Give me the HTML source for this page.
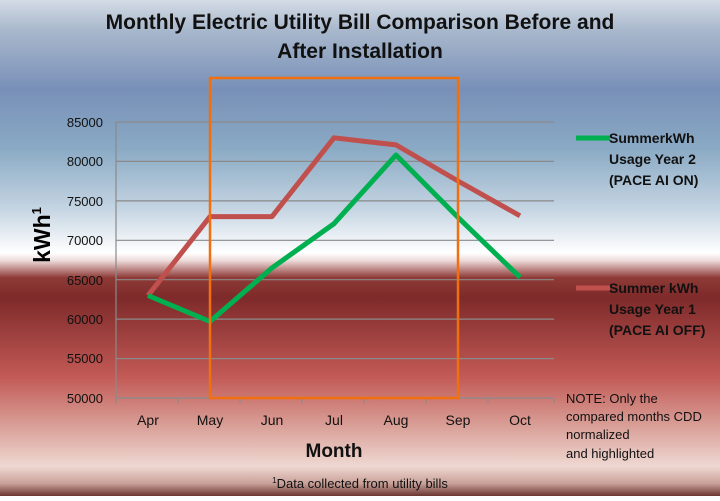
<!DOCTYPE html>
<html><head><meta charset="utf-8"><style>
html,body{margin:0;padding:0;}
body{width:720px;height:496px;overflow:hidden;font-family:"Liberation Sans",sans-serif;}
</style></head><body>
<svg width="720" height="496" xmlns="http://www.w3.org/2000/svg" font-family="Liberation Sans, sans-serif">
<defs>
<linearGradient id="bg" x1="0" y1="0" x2="0" y2="1">
<stop offset="0" stop-color="#d4dce6"/>
<stop offset="0.06" stop-color="#a9b8cc"/>
<stop offset="0.18" stop-color="#7890b8"/>
<stop offset="0.30" stop-color="#8aaac4"/>
<stop offset="0.42" stop-color="#c4d4e2"/>
<stop offset="0.51" stop-color="#ffffff"/>
<stop offset="0.525" stop-color="#eedcdc"/>
<stop offset="0.56" stop-color="#8e3a36"/>
<stop offset="0.60" stop-color="#7e2a2a"/>
<stop offset="0.76" stop-color="#c25a56"/>
<stop offset="0.86" stop-color="#d9a098"/>
<stop offset="0.94" stop-color="#efd8d2"/>
<stop offset="0.975" stop-color="#c8a098"/>
<stop offset="1" stop-color="#6a3430"/>
</linearGradient>
</defs>
<rect width="720" height="496" fill="url(#bg)"/>
<g stroke="#8a8a8a" stroke-width="1.2">
<line x1="116" y1="122" x2="554" y2="122"/>
<line x1="116" y1="161.4" x2="554" y2="161.4"/>
<line x1="116" y1="200.9" x2="554" y2="200.9"/>
<line x1="116" y1="240.3" x2="554" y2="240.3"/>
<line x1="116" y1="279.7" x2="554" y2="279.7"/>
<line x1="116" y1="319.1" x2="554" y2="319.1"/>
<line x1="116" y1="358.6" x2="554" y2="358.6"/>
<line x1="116" y1="398" x2="554" y2="398"/>
<line x1="116" y1="122" x2="116" y2="403"/>
<line x1="178" y1="398" x2="178" y2="403"/>
<line x1="240" y1="398" x2="240" y2="403"/>
<line x1="302" y1="398" x2="302" y2="403"/>
<line x1="364" y1="398" x2="364" y2="403"/>
<line x1="426" y1="398" x2="426" y2="403"/>
<line x1="488" y1="398" x2="488" y2="403"/>
<line x1="554" y1="398" x2="554" y2="403"/>
</g>
<g font-size="13" fill="#111" text-anchor="end">
<text x="103" y="127">85000</text><text x="103" y="166">80000</text><text x="103" y="206">75000</text>
<text x="103" y="245">70000</text><text x="103" y="285">65000</text><text x="103" y="324">60000</text>
<text x="103" y="363">55000</text><text x="103" y="403">50000</text>
</g>
<g font-size="14" fill="#111" text-anchor="middle">
<text x="148" y="425">Apr</text><text x="210" y="425">May</text><text x="272" y="425">Jun</text>
<text x="334" y="425">Jul</text><text x="396" y="425">Aug</text><text x="458" y="425">Sep</text><text x="520" y="425">Oct</text>
</g>
<polyline points="148,295.5 210,216.6 272,216.6 334,137.8 396,144.9 458,181 520,215.8" fill="none" stroke="#c0504d" stroke-width="5" stroke-linejoin="round"/>
<polyline points="148,295.5 210,321.5 272,267.9 334,223.7 396,155 458,217.4 520,277.3" fill="none" stroke="#00b050" stroke-width="5" stroke-linejoin="round"/>
<rect x="210" y="78" width="248" height="320" fill="none" stroke="#f07010" stroke-width="2.5"/>
<text x="360" y="29" font-size="21" font-weight="bold" text-anchor="middle" fill="#111">Monthly Electric Utility Bill Comparison Before and</text>
<text x="360" y="58" font-size="21" font-weight="bold" text-anchor="middle" fill="#111">After Installation</text>
<text transform="translate(50,235) rotate(-90)" font-size="23" font-weight="bold" text-anchor="middle" fill="#000">kWh<tspan font-size="13" dy="-9">1</tspan></text>
<text x="334" y="457" font-size="19" font-weight="bold" text-anchor="middle" fill="#111">Month</text>
<text x="360" y="488" font-size="13" text-anchor="middle" fill="#111"><tspan font-size="8" dy="-5">1</tspan><tspan dy="5">Data collected from utility bills</tspan></text>
<line x1="576" y1="138" x2="610" y2="138" stroke="#00b050" stroke-width="5"/>
<g font-size="14" font-weight="bold" fill="#111">
<text x="609" y="143">SummerkWh</text><text x="609" y="164">Usage Year 2</text><text x="609" y="185">(PACE AI ON)</text>
<text x="609" y="293">Summer kWh</text><text x="609" y="314">Usage Year 1</text><text x="609" y="335">(PACE AI OFF)</text>
</g>
<line x1="576" y1="288" x2="610" y2="288" stroke="#c0504d" stroke-width="5"/>
<g font-size="13" fill="#111">
<text x="566" y="403">NOTE: Only the</text><text x="566" y="421">compared months CDD</text>
<text x="566" y="439">normalized</text><text x="566" y="458">and highlighted</text>
</g>
</svg>
</body></html>
